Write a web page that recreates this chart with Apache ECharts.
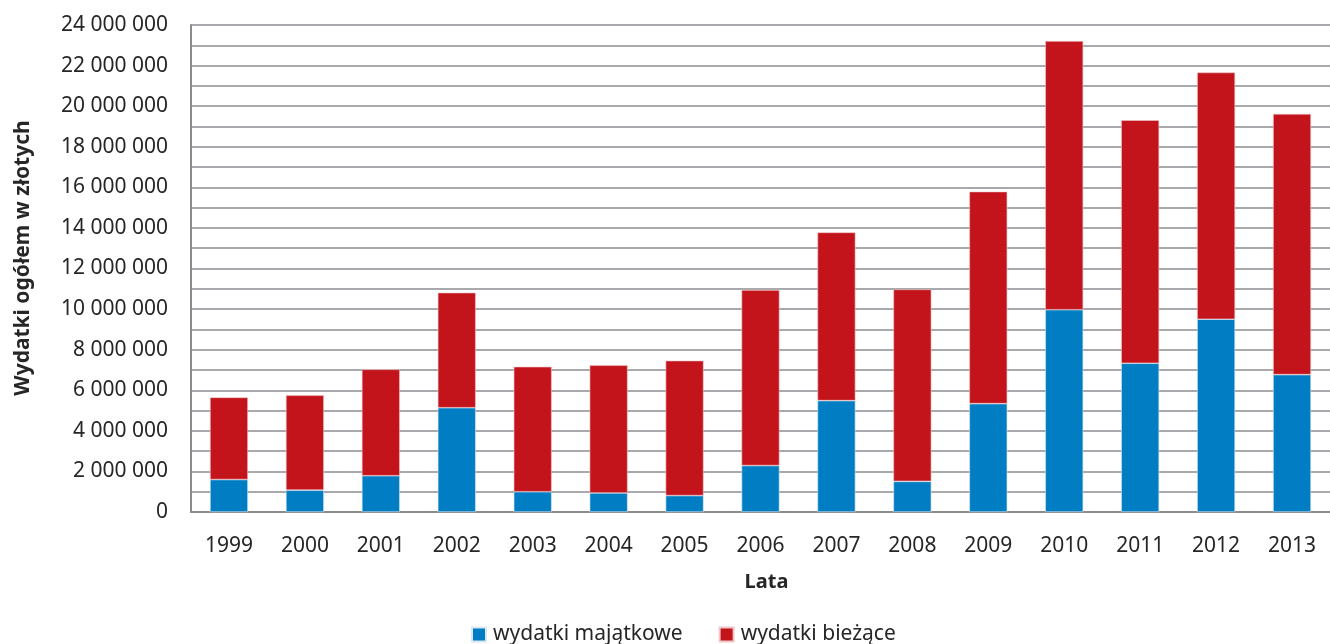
<!DOCTYPE html>
<html>
<head>
<meta charset="utf-8">
<script src="https://cdn.jsdelivr.net/npm/echarts@6/dist/echarts.min.js"></script>
<style>
  html, body { margin: 0; padding: 0; background: #fff; }
  #chart { width: 1330px; height: 644px; }
</style>
</head>
<body>
<div id="chart"></div>
<script>
// lata
var years = ["1999", "2000", "2001", "2002", "2003", "2004", "2005", "2006",
             "2007", "2008", "2009", "2010", "2011", "2012", "2013"];
// wydatki majatkowe (dolna czesc slupka)
var majatkowe = [1600000, 1080000, 1790000, 5140000, 1000000, 940000, 810000, 2290000,
                 5490000, 1510000, 5340000, 9970000, 7330000, 9500000, 6770000];
// wydatki biezace (gorna czesc slupka)
var biezace = [4050000, 4670000, 5240000, 5670000, 6160000, 6290000, 6650000, 8650000,
               8290000, 9460000, 10450000, 13240000, 11980000, 12160000, 12850000];

var FONT = "'Noto Sans', sans-serif";
var TXT = "#262626";

function fmt(v) {
  return String(v).replace(/\B(?=(\d{3})+(?!\d))/g, " ");
}

var chart = echarts.init(document.getElementById("chart"));
var option = {
  backgroundColor: "#fff",
  animation: false,
  textStyle: { fontFamily: FONT },
  grid: { left: 191, right: -3, top: 25, bottom: 132 },
  legend: {
    bottom: -6,
    left: 466,
    itemWidth: 14,
    itemHeight: 14,
    itemGap: 36,
    icon: "rect",
    textStyle: { fontSize: 21, color: TXT, fontFamily: FONT, padding: [0, 0, 0, 2] },
    data: ["wydatki majątkowe", "wydatki bieżące"]
  },
  graphic: [{
    type: "text",
    x: 23,
    y: 258,
    rotation: Math.PI / 2,
    style: {
      text: "Wydatki ogółem w złotych",
      font: "bold 21px 'Noto Sans', sans-serif",
      fill: TXT,
      textAlign: "center",
      textVerticalAlign: "middle"
    }
  }],
  xAxis: {
    type: "category",
    data: years,
    name: "Lata",
    nameLocation: "middle",
    nameGap: 60,
    nameTextStyle: { fontSize: 20, fontWeight: "bold", color: TXT, fontFamily: FONT, padding: [0, 0, 0, 12] },
    axisLine: { lineStyle: { color: "#8c8c8c", width: 2 } },
    axisTick: { show: false },
    axisLabel: { fontSize: 21, color: TXT, margin: 24, fontFamily: FONT }
  },
  yAxis: {
    type: "value",
    min: 0,
    max: 24000000,
    interval: 1000000,
    axisLine: { show: true, lineStyle: { color: "#8c8c8c", width: 2 } },
    axisTick: { show: false },
    axisLabel: {
      fontSize: 21, color: TXT, margin: 23, fontFamily: FONT,
      formatter: function (v) { return v % 2000000 === 0 ? fmt(v) : ""; }
    },
    splitLine: { lineStyle: { color: "#a9a9ad", width: 2 } }
  },
  series: [
    {
      name: "wydatki majątkowe",
      type: "bar",
      stack: "total",
      barWidth: "50%",
      data: majatkowe,
      itemStyle: { color: "#007dc3", borderColor: "#d8e8f4", borderWidth: 0.6 }
    },
    {
      name: "wydatki bieżące",
      type: "bar",
      stack: "total",
      barWidth: "50%",
      data: biezace,
      itemStyle: { color: "#c3141b", borderColor: "#f0c8ca", borderWidth: 0.6 }
    }
  ]
};
chart.setOption(option);
</script>
</body>
</html>
